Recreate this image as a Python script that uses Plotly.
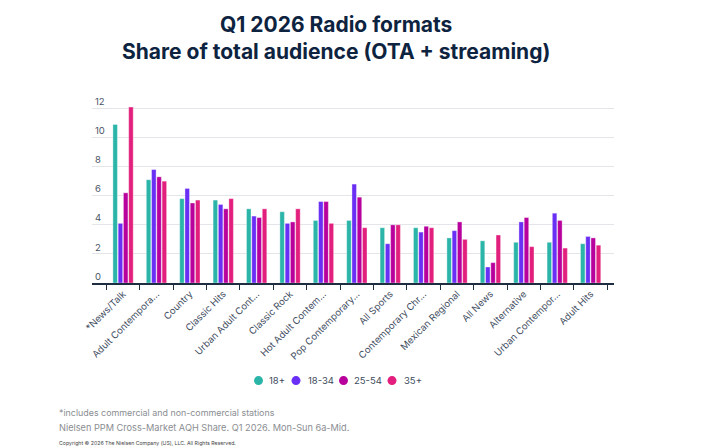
import plotly.graph_objects as go

categories = ["*News/Talk", "Adult Contempora...", "Country", "Classic Hits",
              "Urban Adult Cont...", "Classic Rock", "Hot Adult Contem...",
              "Pop Contemporary...", "All Sports", "Contemporary Chr...",
              "Mexican Regional", "All News", "Alternative",
              "Urban Contempor...", "Adult Hits"]

series_names = ["18+", "18-34", "25-54", "35+"]
v_18plus = [10.9, 7.1, 5.8, 5.7, 5.1, 4.9, 4.3, 4.3, 3.8, 3.8, 3.1, 2.9, 2.8, 2.8, 2.7]
v_18_34 = [4.1, 7.8, 6.5, 5.4, 4.6, 4.1, 5.6, 6.8, 2.7, 3.5, 3.6, 1.1, 4.2, 4.8, 3.2]
v_25_54 = [6.2, 7.3, 5.5, 5.1, 4.5, 4.2, 5.6, 5.9, 4.0, 3.9, 4.2, 1.4, 4.5, 4.3, 3.1]
v_35plus = [12.1, 7.0, 5.7, 5.8, 5.1, 5.1, 4.1, 3.8, 4.0, 3.8, 3.0, 3.3, 2.5, 2.4, 2.6]
series_values = [v_18plus, v_18_34, v_25_54, v_35plus]

y_ticks = [0, 2, 4, 6, 8, 10, 12]

title_line1 = "Q1 2026 Radio formats"
title_line2 = "Share of total audience (OTA + streaming)"
footnote1 = "*includes commercial and non-commercial stations"
footnote2 = "Nielsen PPM Cross-Market AQH Share. Q1 2026. Mon-Sun 6a-Mid."
copyright_text = "Copyright © 2026 The Nielsen Company (US), LLC. All Rights Reserved."

colors = ["#2bb5a9", "#6a2ff4", "#b8009d", "#e21f7d"]
FONT = "Inter"

fig = go.Figure()
for name, vals, col in zip(series_names, series_values, colors):
    fig.add_trace(go.Bar(
        x=categories, y=vals, name=name, marker_color=col,
        marker_line=dict(color="rgba(255,255,255,0.45)", width=0.8),
        showlegend=False,
    ))

W, H = 726, 447
left, right_edge = 92, 614
px_per_unit = 14.5
bottom_edge = 282.7
y_top = 13.2
top = bottom_edge - px_per_unit * y_top

def px_x(xpx):
    return (xpx - left) / (right_edge - left)

def px_y(ypx):
    return (bottom_edge - ypx) / (bottom_edge - top)

fig.update_layout(
    width=W, height=H,
    margin=dict(l=left, r=W - right_edge, t=top, b=H - bottom_edge, pad=0),
    paper_bgcolor="white", plot_bgcolor="white",
    barmode="group", bargap=0.37, bargroupgap=0.14,
    font=dict(family=FONT, color="#3f4e5f"),
    showlegend=False,
    xaxis=dict(type="category", range=[-0.93, 14.7], showline=True,
               linecolor="#1e2d3f", linewidth=1.5, ticks="outside",
               tickson="boundaries", ticklen=5, tickcolor="#1e2d3f", tickwidth=1,
               tickangle=-45, tickfont=dict(family=FONT, size=9.5, color="#3f4e5f"),
               showgrid=False, fixedrange=True),
    yaxis=dict(range=[0, y_top], tickvals=y_ticks, ticktext=[str(t) for t in y_ticks],
               showgrid=True, gridcolor="#e3e5e9", gridwidth=1, zeroline=False,
               showline=False, ticks="", ticklabelposition="inside top",
               tickfont=dict(family=FONT, size=9.5, color="#4a5565")),
)

def add_text(text, xpx, ypx, size, color, anchor="left"):
    fig.add_annotation(text=text, xref="paper", yref="paper",
                       x=px_x(xpx), y=px_y(ypx),
                       xanchor=anchor, yanchor="middle", showarrow=False,
                       font=dict(family=FONT, size=size, color=color))

# title (two lines, one text block)
add_text("<b>%s</b><br><b>%s</b>" % (title_line1, title_line2), 336, 38, 21,
         "#0d2340", anchor="center")

# legend (circles + labels)
legend_cx = [258.5, 296, 343.5, 392]
legend_tx = [267, 305.5, 352, 401.5]
legend_y = 380
for name, col, cx, tx in zip(series_names, colors, legend_cx, legend_tx):
    fig.add_shape(type="circle", xref="paper", yref="paper",
                  xsizemode="pixel", ysizemode="pixel",
                  xanchor=px_x(cx), yanchor=px_y(legend_y),
                  x0=-4.5, x1=4.5, y0=-4.5, y1=4.5,
                  fillcolor=col, line=dict(width=0))
    add_text(name, tx, legend_y, 9.5, "#3d4a5c")

# footnotes
add_text(footnote1, 57, 411.5, 8.9, "#8a8d92")
add_text(footnote2, 57, 427, 9.2, "#8a8d92")
add_text(copyright_text, 57, 442, 5.2, "#444444")

fig.write_html("out.html")
